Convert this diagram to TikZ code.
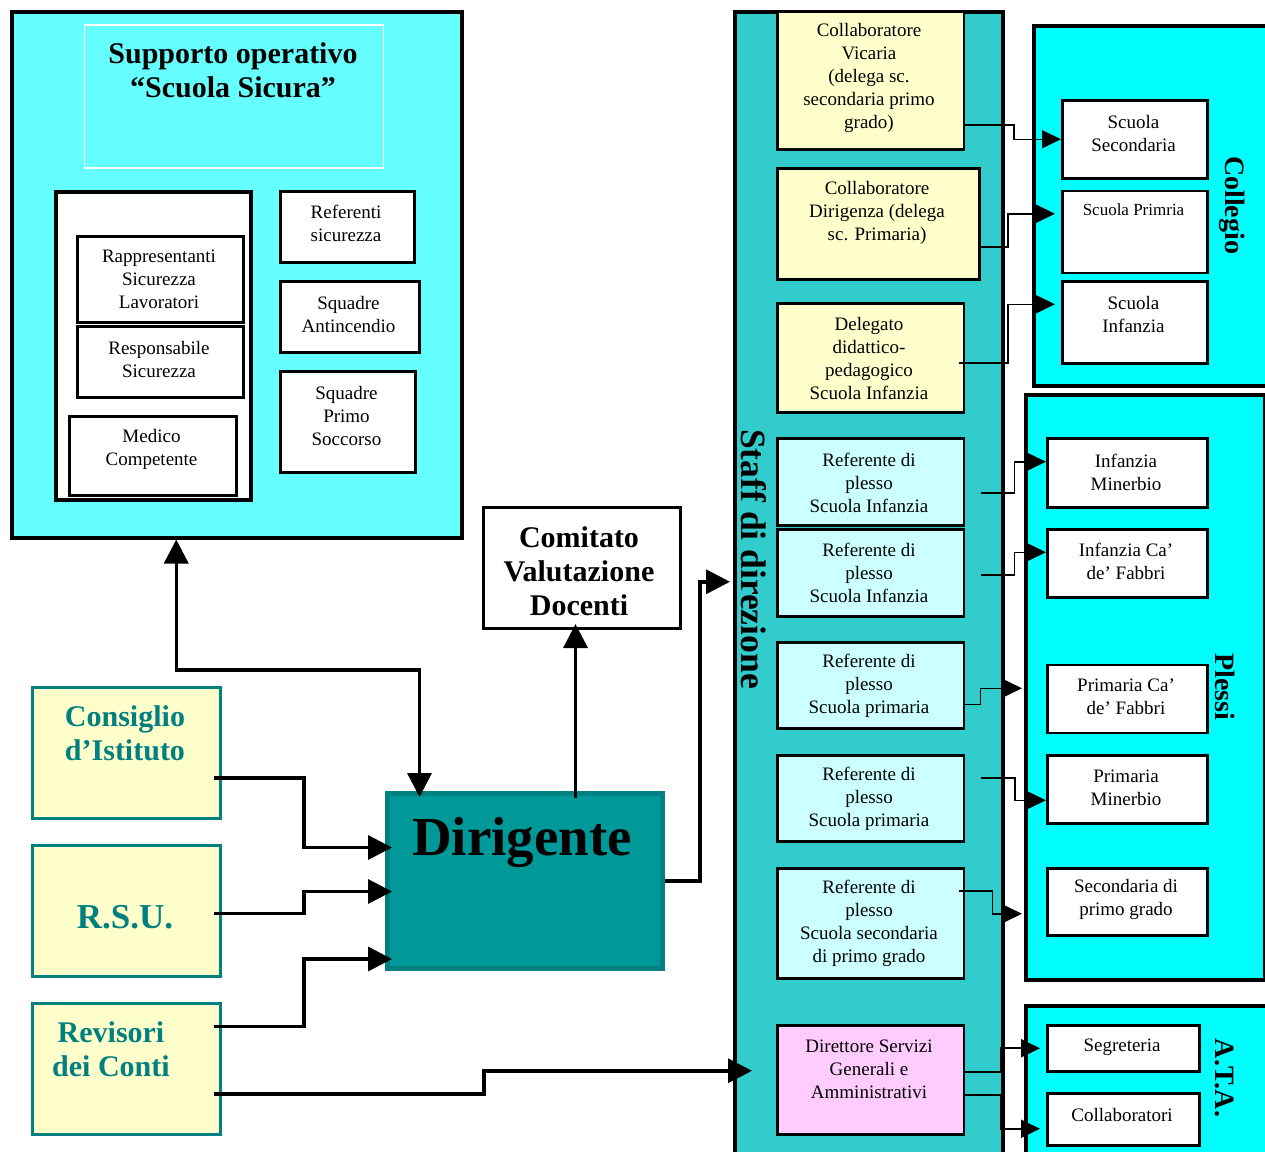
\documentclass[tikz,border=0pt]{standalone}
\usepackage{fontspec}
\setmainfont{Liberation Serif}
\usetikzlibrary{arrows.meta}
\newcommand\fsz[2]{\fontsize{#1}{#2}\selectfont}
\definecolor{supc}{HTML}{66FFFF}
\definecolor{staffc}{HTML}{33CCCC}
\definecolor{cyanc}{HTML}{00FFFF}
\definecolor{ylw}{HTML}{FFFFCC}
\definecolor{lcy}{HTML}{CCFFFF}
\definecolor{pnk}{HTML}{FFCCFF}
\definecolor{dirc}{HTML}{009999}
\definecolor{dirb}{HTML}{008080}
\definecolor{tealc}{HTML}{008080}
\begin{document}
\begin{tikzpicture}[x=1pt,y=-1pt,
  box/.style={draw, anchor=north west, inner sep=0pt, line width=2.5pt},
  bigbox/.style={draw, anchor=north west, inner sep=0pt, line width=4pt},
  tx/.style={font=\fsz{19}{23}, align=center, inner sep=0pt},
  thk/.style={line width=3.5pt, -{Triangle[length=24pt,width=24pt]}},
  thn/.style={line width=1.5pt, -{Triangle[length=19pt,width=18pt]}},
  ttl/.style={font=\bfseries\fsz{30}{34}, align=center, inner sep=0pt},
  tealt/.style={font=\bfseries\fsz{30}{34}, align=center, inner sep=0pt, text=tealc},
  vlab/.style={font=\bfseries\fsz{28}{32}, rotate=-90, inner sep=0pt},
  lbox/.style={draw=tealc, fill=ylw, anchor=north west, inner sep=0pt, line width=3pt, minimum width=188pt}
]
\useasboundingbox (0,0) rectangle (1265,1151);
\clip (0,0) rectangle (1265,1151);
\fill[white] (0,0) rectangle (1265,1151);

% ---- Supporto operativo ----
\node[bigbox, fill=supc, minimum width=450.5pt, minimum height=525.5pt] (sup) at (9.5,10) {};
\node[draw=white, line width=1.5pt, anchor=north west, inner sep=0pt, minimum width=299pt, minimum height=143pt] (supf) at (83.5,24) {};
\node[ttl] (supt) at (233,70) {Supporto operativo\\“Scuola Sicura”};
\node[box, fill=white, line width=3.5pt, minimum width=195pt, minimum height=308pt] (wb) at (54,190) {};
\node[box, fill=white, minimum width=166pt, minimum height=86pt] (rap) at (76,235) {};
\node[tx] (rapt) at (159,279.5) {Rappresentanti\\Sicurezza\\Lavoratori};
\node[box, fill=white, minimum width=166pt, minimum height=71pt] (res) at (76,325) {};
\node[tx] (rest) at (159,359) {Responsabile\\Sicurezza};
\node[box, fill=white, minimum width=167pt, minimum height=79pt] (med) at (68,415) {};
\node[tx] (medt) at (151.5,449) {Medico\\Competente};
\node[box, fill=white, minimum width=134pt, minimum height=71pt] (ref) at (279,190) {};
\node[tx] (reft) at (346,223) {Referenti\\sicurezza};
\node[box, fill=white, minimum width=139pt, minimum height=71pt] (sqa) at (279,280) {};
\node[tx] (sqat) at (348.5,314) {Squadre\\Antincendio};
\node[box, fill=white, minimum width=135pt, minimum height=101pt] (sqp) at (279,370) {};
\node[tx] (sqpt) at (346.5,415.5) {Squadre\\Primo\\Soccorso};

% ---- left boxes ----
\node[lbox, minimum height=131pt] (cons) at (31,686) {};
\node[tealt] (const) at (125,733.5) {Consiglio\\d’Istituto};
\node[lbox, minimum height=131pt] (rsu) at (31,844) {};
\node[tealt, font=\bfseries\fsz{35}{38}] (rsut) at (125,917) {R.S.U.};
\node[lbox, minimum height=131pt] (rev) at (31,1002) {};
\node[tealt] (revt) at (111,1049) {Revisori\\dei Conti};

% ---- Dirigente / Comitato ----
\node[draw=dirb, fill=dirc, line width=5pt, anchor=north west, inner sep=0pt, minimum width=275pt, minimum height=175pt] (dir) at (385,791) {};
\node[font=\bfseries\fsz{55}{60}, inner sep=0pt] (dirt) at (522,842) {Dirigente};
\node[draw, fill=white, line width=3pt, anchor=north west, inner sep=0pt, minimum width=197pt, minimum height=121pt] (com) at (482,506) {};
\node[ttl] (comt) at (579,571) {Comitato\\Valutazione\\Docenti};

% ---- Staff di direzione ----
\node[bigbox, line width=3.5pt, fill=staffc, minimum width=268pt, minimum height=1160pt] (staff) at (733,10) {};
\node[vlab, font=\bfseries\fsz{35.5}{40}] (stafft) at (754,559) {Staff di direzione};
\node[box, fill=ylw, minimum width=186.5pt, minimum height=138pt] (vic) at (776,10) {};
\node[tx] (vict) at (869,77.5) {Collaboratore\\Vicaria\\(delega sc.\\secondaria primo\\grado)};
\node[box, fill=ylw, minimum width=202pt, minimum height=111pt] (dgz) at (776,167) {};
\node[tx] (dgzt) at (877,212.5) {Collaboratore\\Dirigenza (delega\\sc. Primaria)};
\node[box, fill=ylw, minimum width=186.5pt, minimum height=109pt] (del) at (776,302) {};
\node[tx] (delt) at (869,358.5) {Delegato\\didattico-\\pedagogico\\Scuola Infanzia};
\node[box, fill=lcy, minimum width=186.5pt, minimum height=87pt] (r1) at (776,437) {};
\node[tx] (r1t) at (869,483) {Referente di\\plesso\\Scuola Infanzia};
\node[box, fill=lcy, minimum width=186.5pt, minimum height=87pt] (r2) at (776,528) {};
\node[tx] (r2t) at (869,573) {Referente di\\plesso\\Scuola Infanzia};
\node[box, fill=lcy, minimum width=186.5pt, minimum height=86pt] (r3) at (776,641) {};
\node[tx] (r3t) at (869,686) {Referente di\\plesso\\Scuola primaria};
\node[box, fill=lcy, minimum width=186.5pt, minimum height=86pt] (r4) at (776,754) {};
\node[tx] (r4t) at (869,799) {Referente di\\plesso\\Scuola primaria};
\node[box, fill=lcy, minimum width=186.5pt, minimum height=110pt] (r5) at (776,867) {};
\node[tx] (r5t) at (869,923) {Referente di\\plesso\\Scuola secondaria\\di primo grado};
\node[box, fill=pnk, minimum width=186.5pt, minimum height=109pt] (dsg) at (776,1024) {};
\node[tx] (dsgt) at (869,1069.5) {Direttore Servizi\\Generali e\\Amministrativi};

% ---- Collegio ----
\node[bigbox, line width=3.5pt, fill=cyanc, minimum width=250pt, minimum height=360pt] (coll) at (1032,24) {};
\node[vlab] (collt) at (1232,205) {Collegio};
\node[box, fill=white, minimum width=145pt, minimum height=78pt] (ssec) at (1061,99) {};
\node[tx] (ssect) at (1133.5,133.5) {Scuola\\Secondaria};
\node[box, fill=white, minimum width=145pt, minimum height=82pt] (sprim) at (1061,189.5) {};
\node[font=\fsz{17}{20}, inner sep=0pt] (sprimt) at (1133.5,210) {Scuola Primria};
\node[box, fill=white, minimum width=145pt, minimum height=82pt] (sinf) at (1061,280) {};
\node[tx] (sinft) at (1133.5,314.7) {Scuola\\Infanzia};

% ---- Plessi ----
\node[bigbox, line width=3.5pt, fill=cyanc, minimum width=239pt, minimum height=585pt] (ple) at (1024,393) {};
\node[vlab] (plet) at (1225,687) {Plessi};
\node[box, fill=white, minimum width=160pt, minimum height=69pt] (pim) at (1046,437) {};
\node[tx] (pimt) at (1126,472.5) {Infanzia\\Minerbio};
\node[box, fill=white, minimum width=160pt, minimum height=68pt] (pic) at (1046,528) {};
\node[tx] (pict) at (1126,561.5) {Infanzia Ca’\\de’ Fabbri};
\node[box, fill=white, minimum width=160pt, minimum height=68pt] (ppc) at (1046,663.5) {};
\node[tx] (ppct) at (1126,697) {Primaria Ca’\\de’ Fabbri};
\node[box, fill=white, minimum width=160pt, minimum height=68pt] (ppm) at (1046,754) {};
\node[tx] (ppmt) at (1126,787.5) {Primaria\\Minerbio};
\node[box, fill=white, minimum width=160pt, minimum height=67pt] (psg) at (1046,867) {};
\node[tx] (psgt) at (1126,899.5) {Secondaria di\\primo grado};

% ---- A.T.A. ----
\node[bigbox, line width=3.5pt, fill=cyanc, minimum width=250pt, minimum height=170pt] (ata) at (1024,1004) {};
\node[vlab] (atat) at (1225,1078) {A.T.A.};
\node[box, fill=white, minimum width=152pt, minimum height=46pt] (seg) at (1046,1024) {};
\node[tx] (segt) at (1122,1047) {Segreteria};
\node[box, fill=white, minimum width=152pt, minimum height=52pt] (clb) at (1046,1092) {};
\node[tx] (clbt) at (1122,1115) {Collaboratori};

% ---- thick connectors ----
\draw[thk, {Triangle[length=24pt,width=24pt]}-{Triangle[length=24pt,width=24pt]}]
  ([xshift=-60.5pt]sup.south) -- ++(0,130.5) -| ([xshift=-105.5pt,yshift=-6pt]dir.north);
\draw[thk] ([xshift=-8pt,yshift=-25pt]cons.east) -- ++(90,0) |- ([xshift=7pt,yshift=33.5pt]dir.west);
\draw[thk] ([xshift=-8pt,yshift=-2.5pt]rsu.east) -- ++(90,0) |- ([xshift=7pt,yshift=-10.5pt]dir.west);
\draw[thk] ([xshift=-8pt,yshift=42.5pt]rev.east) -- ++(90,0) |- ([xshift=7pt,yshift=-78pt]dir.west);
\draw[thk] ([xshift=-8pt,yshift=-25pt]rev.east) -- ++(270,0) |- ([shift={(19pt,-479pt)}]staff.west);
\coordinate (dc) at ([xshift=50.5pt,yshift=-7pt]dir.north);
\draw[thk] (dc) -- ([yshift=6pt]dc |- com.south);
\draw[thk] (dir.east) -- ++(35,0) |- ([xshift=-3pt,yshift=10pt]staff.west);

% ---- thin connectors ----
\draw[thn] ([yshift=-44.5pt]vic.east) -- ++(49,0) |- (ssec.west);
\draw[thn, line width=2pt] ([yshift=-23pt]dgz.east) -- ++(27.7,0) |- ([xshift=-6pt,yshift=18pt]sprim.west);
\draw[thn] ([xshift=-6.5pt,yshift=-5pt]del.east) -- ++(49.7,0) |- ([xshift=-6pt,yshift=18pt]sinf.west);
\draw[thn] ([xshift=15.5pt,yshift=-11pt]r1.east) -- ++(34,0) |- ([yshift=11pt]pim.west);
\draw[thn] ([xshift=15.5pt,yshift=-2pt]r2.east) -- ++(34,0) |- ([yshift=11pt]pic.west);
\draw[thn] ([yshift=-19pt]r3.east) -- ++(15.5,0) |- ([xshift=-2pt,yshift=-1pt]ple.west);
\draw[thn] ([xshift=15.5pt,yshift=20.5pt]r4.east) -- ++(34.5,0) |- ([yshift=-11pt]ppm.west);
\draw[thn] ([xshift=-6.5pt,yshift=32.5pt]r5.east) -- ++(34,0) |- ([xshift=-2pt,yshift=-226.5pt]ple.west);
\draw[thn, line width=2pt] ([yshift=7.5pt]dsg.east) -- ++(36,0) |- ([xshift=-6pt]seg.west);
\draw[thn, line width=2pt] ([yshift=-14.8pt]dsg.east) -- ++(36,0) |- ([xshift=-6pt,yshift=-9.5pt]clb.west);
\end{tikzpicture}
\end{document}
